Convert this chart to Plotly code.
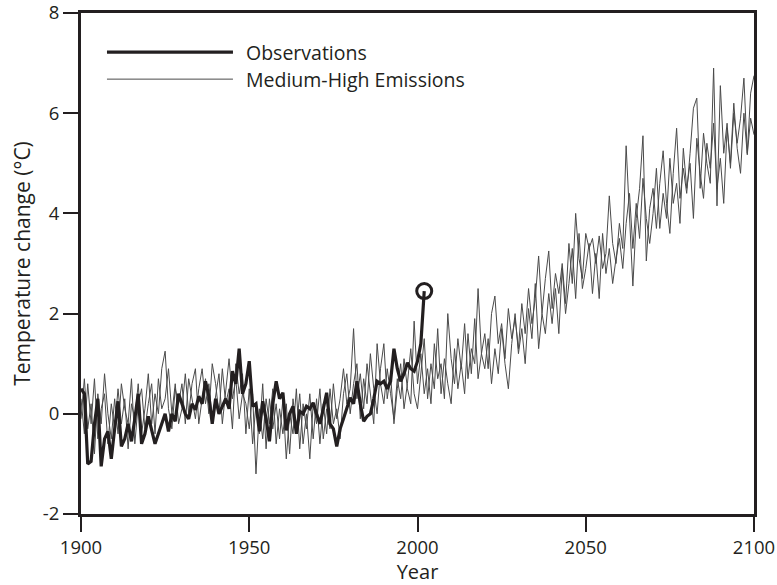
import plotly.graph_objects as go

# Observed global temperature change (°C), annual, 1900-2002
obs_years = list(range(1900, 2003))
obs_values = [
    0.5, 0.4, -1.0, -0.95, -0.2, 0.3, -1.05, -0.5, -0.35, -0.9,
    -0.3, 0.25, -0.65, -0.5, -0.2, -0.55, -0.1, 0.4, -0.6, -0.4,
    -0.05, -0.3, -0.6, -0.4, -0.2, 0.0, -0.35, 0.0, -0.15, 0.4,
    0.2, 0.0, -0.1, 0.2, 0.08, 0.35, 0.2, 0.65, 0.35, -0.2,
    0.3, 0.0, 0.15, 0.3, 0.1, 0.85, 0.6, 1.3, 0.4, 0.6,
    1.05, 0.15, 0.2, -0.35, 0.25, -0.1, -0.55, 0.2, 0.65, 0.3,
    0.42, -0.33, 0.0, 0.15, -0.4, 0.05, 0.0, 0.15, 0.1, 0.22,
    0.0, -0.2, 0.1, 0.42, -0.2, -0.3, -0.65, -0.3, -0.1, 0.1,
    0.32, 0.2, 0.65, 0.2, -0.15, -0.05, 0.0, 0.3, 0.65, 0.6,
    0.65, 0.5, 0.65, 1.3, 0.9, 0.65, 0.8, 1.02, 0.9, 0.85,
    1.05, 1.4, 2.45,
]

# Model simulations under medium-high emissions, annual, 1900-2100
model_years = list(range(1900, 2101))
model_run_a = [
    0.3, -0.4, 0.6, -0.2, 0.7, -0.5, 0.1, 0.4, -0.6, 0.2,
    -0.3, 0.5, -0.2, 0.3, -0.7, 0.2, -0.1, 0.6, -0.4, 0.1,
    0.8, -0.2, 0.4, 0.0, 0.9, 1.25, 0.1, -0.3, 0.5, 0.2,
    0.6, -0.2, 0.7, 0.3, -0.1, 0.5, 0.9, 0.2, 0.6, -0.1,
    0.4, 0.8, -0.2, 0.5, 1.1, 0.3, 0.7, -0.1, 0.4, 0.2,
    -0.3, 0.4, -1.2, 0.1, -0.5, 0.3, -0.2, 0.5, -0.6, 0.1,
    -0.4, 0.2, -0.8, 0.3, -0.3, 0.4, -0.6, 0.0, -0.9, 0.2,
    -0.2, 0.5, -0.5, 0.1, -0.3, 0.6, -0.1, 0.3, 0.9, 0.2,
    0.5, 1.7, 0.3, 0.8, 0.1, 1.0, 0.4, -0.2, 1.4, 0.6,
    0.2, 0.9, 0.4, -0.1, 0.7, 0.3, 1.1, 0.5, 0.2, 1.85,
    0.6, 1.2, 0.4, 0.9, 0.2, 1.4, 0.7, 1.0, 0.3, 2.0,
    1.1, 0.6, 1.5, 0.9, 1.8, 0.7, 1.3, 1.0, 2.5, 1.2,
    1.6, 0.9, 2.0, 2.35, 1.4, 1.8, 1.1, 2.1, 1.5, 1.9,
    1.3, 2.2, 1.6, 2.5, 1.8, 2.3, 3.15, 2.0, 2.7, 3.25,
    2.1, 2.8, 2.4, 3.0, 2.2, 3.4, 2.6, 4.0, 3.1, 2.7,
    3.6, 3.3, 3.5, 3.0, 3.55, 2.9, 3.2, 4.35, 3.4, 3.0,
    3.8, 3.3, 5.35, 4.0, 2.55, 3.9, 4.5, 5.55, 3.05, 4.1,
    4.5, 3.7, 4.6, 5.25, 4.2, 3.6, 4.8, 5.7, 4.3, 4.9,
    4.4, 5.2, 6.1, 6.3, 4.5, 5.6, 5.0, 4.6, 6.9, 4.15,
    6.55, 5.2, 5.8, 4.9, 6.0, 5.4, 5.9, 6.7, 5.2, 6.4, 6.75,
]
model_run_b = [
    -0.1, 0.7, -0.3, 0.2, -0.8, 0.4, -0.2, 0.8, 0.0, -0.5,
    0.3, -0.4, 0.6, 0.1, -0.2, 0.7, -0.6, 0.2, 0.5, -0.3,
    0.2, 0.6, -0.4, 0.7, 0.1, 0.3, 0.9, 0.0, 0.6, -0.2,
    0.1, 0.8, 0.0, 0.6, 0.9, -0.2, 0.3, 0.7, 0.0, 1.0,
    0.6, 0.0, 0.9, 0.2, 0.5, -0.3, 1.0, 0.4, 0.8, -0.4,
    0.5, -0.6, 0.2, -0.4, 0.6, -0.7, 0.3, -0.3, 0.2, -0.5,
    0.3, -0.9, 0.0, -0.4, 0.5, -0.7, 0.2, -0.3, 0.4, -0.5,
    0.3, -0.6, 0.2, -0.4, 0.5, -0.2, 0.1, -0.5, 0.4, 0.8,
    0.0, 0.6, 1.0, -0.1, 0.7, 0.2, 1.2, 0.5, 0.0, 0.9,
    1.4, 0.3, 0.8, -0.2, 0.5, 1.0, 0.1, 0.6, 1.3, 0.4,
    0.1, 0.8, 1.5, 0.3, 1.0, 0.5, 1.7, 0.4, 1.1, 0.6,
    0.2, 1.3, 0.5, 1.0, 0.4, 1.6, 0.8, 1.9, 0.7, 1.2,
    0.9, 1.5, 0.6, 1.3, 0.8, 1.7, 1.0, 0.5, 1.4, 2.0,
    1.2, 1.7, 1.0, 2.1, 1.5, 2.6, 1.3, 2.0, 1.6, 2.4,
    1.8, 2.5, 1.6, 2.9, 2.0, 2.6, 3.3, 2.3, 3.6, 2.5,
    2.9, 3.4, 2.4, 3.2, 2.3, 3.6, 2.8, 3.3, 2.6, 3.1,
    3.5, 2.9, 3.8, 4.4, 3.3, 4.2, 3.5, 4.7, 3.9, 3.4,
    4.0, 4.9, 3.7, 4.4, 3.9, 5.1, 4.2, 4.6, 3.8, 5.3,
    4.5, 5.0, 3.9, 5.5, 4.8, 4.3, 5.4, 4.9, 5.8, 4.5,
    5.1, 4.2, 5.7, 5.0, 6.2, 5.3, 4.8, 6.0, 5.17, 5.9, 5.57,
]

x_ticks = [1900, 1950, 2000, 2050, 2100]
y_ticks = [-2, 0, 2, 4, 6, 8]
legend_labels = ["Observations", "Medium-High Emissions"]

INK = "#231f20"
THIN = "#4a4a4a"
FONT = "Open Sans, Noto Sans, sans-serif"

fig = go.Figure()

for run in (model_run_a, model_run_b):
    fig.add_trace(go.Scatter(
        x=model_years, y=run, mode="lines",
        line=dict(color=THIN, width=1), showlegend=False, hoverinfo="skip",
    ))

fig.add_trace(go.Scatter(
    x=obs_years, y=obs_values, mode="lines",
    line=dict(color=INK, width=3.2), showlegend=False,
))

# open ring marking the latest observation
fig.add_trace(go.Scatter(
    x=[obs_years[-1]], y=[obs_values[-1]], mode="markers",
    marker=dict(symbol="circle-open", size=15, color=INK, line=dict(width=3, color=INK)),
    showlegend=False,
))

# hand-drawn legend: long line samples with labels to their right
legend_rows = [(0.922, 3.2), (0.868, 1)]
for (yy, w), label in zip(legend_rows, legend_labels):
    fig.add_shape(type="line", xref="paper", yref="paper",
                  x0=0.0386, x1=0.2258, y0=yy, y1=yy,
                  line=dict(color=INK if w > 2 else THIN, width=w))
    fig.add_annotation(xref="paper", yref="paper", x=0.242, y=yy,
                       text=label, showarrow=False, xanchor="left", yanchor="middle",
                       font=dict(family=FONT, size=19.5, color=INK))

axis_common = dict(
    showline=True, linecolor=INK, linewidth=3, mirror=True,
    ticks="outside", ticklen=15, tickwidth=2, tickcolor=INK,
    showgrid=False, zeroline=False, automargin=False,
    ticklabeloverflow="allow",
    tickfont=dict(family=FONT, size=18.5, color=INK),
)

fig.update_xaxes(range=[1900, 2100], tickvals=x_ticks, ticktext=[str(v) for v in x_ticks],
                 title=dict(text="Year", font=dict(family=FONT, size=20, color=INK), standoff=10),
                 **axis_common)
fig.update_yaxes(range=[-2, 8], tickvals=y_ticks, ticktext=[str(v) for v in y_ticks],
                 title=dict(text="Temperature change (°C)", font=dict(family=FONT, size=21, color=INK),
                            standoff=7),
                 **axis_common)

fig.update_layout(
    width=777, height=585,
    margin=dict(l=81, r=23, t=13, b=71),
    plot_bgcolor="white", paper_bgcolor="white",
    showlegend=False,
)

fig.write_html("out.html")
